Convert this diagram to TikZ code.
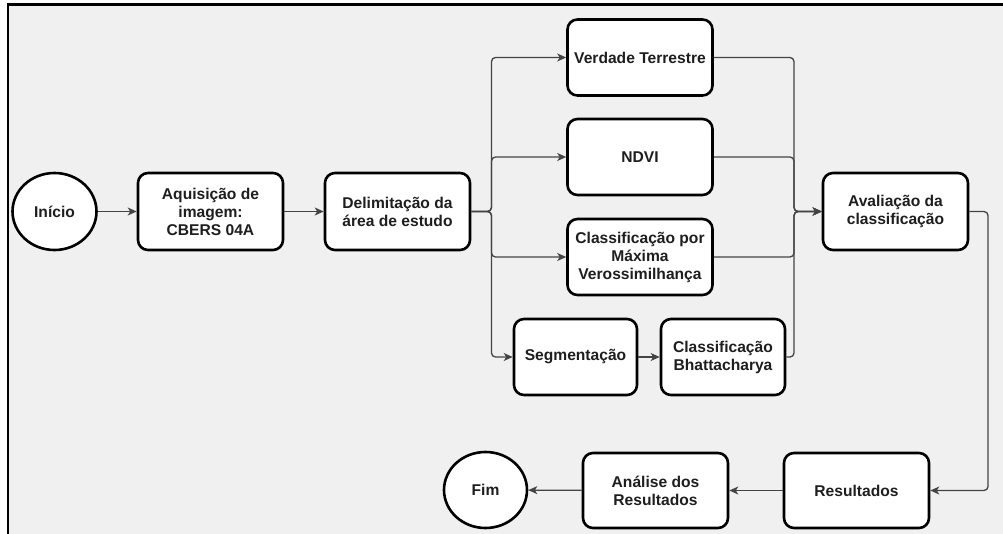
\documentclass[tikz,border=0pt]{standalone}
\usepackage{fontspec}
\setmainfont{Liberation Sans}
\usetikzlibrary{arrows.meta}
\usetikzlibrary{shapes.geometric}
\definecolor{bggray}{HTML}{F0F0F0}
\definecolor{linegray}{HTML}{444444}
\definecolor{textgray}{HTML}{1E1E1E}

\begin{document}
\begin{tikzpicture}[x=1pt, y=-1pt,
    stepbox/.style = {draw = black, fill = white, line width = 2.6pt, rounded corners = 10pt,
                      minimum width = 145pt, minimum height = 77pt, inner sep = 0pt,
                      align = center, text = textgray,
                      font = \fontsize{15.6}{18}\selectfont\bfseries},
    terminal/.style = {draw = black, fill = white, line width = 2.6pt, ellipse,
                       minimum width = 84pt, minimum height = 77pt, inner sep = 0pt,
                       text = textgray, font = \fontsize{15.6}{18}\selectfont\bfseries},
    link/.style = {draw = linegray, line width = 1.3pt, rounded corners = 4pt,
                   -{Stealth[length = 9pt, width = 8pt, inset = 2.5pt]}}]

        \useasboundingbox (0,0) rectangle (1003,534);

        % draw the frame
        \fill[white] (0,0) rectangle (1003,534);
        \fill[bggray] (7.8,4.7) rectangle (1003,534);
        \draw[line width = 2.6pt] (7.8,534) -- (7.8,4.7) -- (1003,4.7);

        % top row
        \node[terminal] (inicio) at (54.5,211.5) {Início};
        \node[stepbox] (aquisicao) at (210.5,211.5) {Aquisição de\\imagem:\\CBERS 04A};
        \node[stepbox] (delimitacao) at (397.5,211.5) {Delimitação da\\área de estudo};

        % the four branches
        \node[stepbox, minimum height = 76pt] (verdade) at (640,57.5) {Verdade Terrestre};
        \node[stepbox, minimum height = 76pt] (ndvi) at (640,157) {NDVI};
        \node[stepbox, minimum height = 76pt] (maxver) at (640,257) {Classificação por\\Máxima\\Verossimilhança};
        \node[stepbox, minimum width = 123pt, minimum height = 76pt] (segmentacao) at (575.5,357) {Segmentação};
        \node[stepbox, minimum width = 124pt, minimum height = 76pt] (bhatta) at (723,357) {Classificação\\Bhattacharya};

        % right column and bottom row
        \node[stepbox] (avaliacao) at (895.5,211.5) {Avaliação da\\classificação};
        \node[stepbox, minimum height = 75pt] (resultados) at (856.5,490.5) {Resultados};
        \node[stepbox, minimum height = 75pt] (analise) at (655.5,490.5) {Análise dos\\Resultados};
        \node[terminal, minimum width = 83pt, minimum height = 76pt] (fim) at (485.5,490) {Fim};

        % turning points
        \coordinate (split) at (491.5,211.5);
        \coordinate (merge) at (794,211.5);
        \coordinate (turn) at (988,211.5);

        % draw the arrows
        \draw[link] (inicio) -- (aquisicao);
        \draw[link] (aquisicao) -- (delimitacao);
        \draw[link] (delimitacao.east) -- (split) |- (verdade.west);
        \draw[link] (delimitacao.east) -- (split) |- (ndvi.west);
        \draw[link] (delimitacao.east) -- (split) |- (maxver.west);
        \draw[link] (delimitacao.east) -- (split) |- (segmentacao.west);
        \draw[link] (segmentacao) -- (bhatta);
        \draw[link] (verdade.east) -| (merge) -- (avaliacao.west);
        \draw[link] (ndvi.east) -| (merge) -- (avaliacao.west);
        \draw[link] (maxver.east) -| (merge) -- (avaliacao.west);
        \draw[link] (bhatta.east) -| (merge) -- (avaliacao.west);
        \draw[link] (avaliacao.east) -- (turn) |- (resultados.east);
        \draw[link] (resultados) -- (analise);
        \draw[link] (analise) -- (fim);

      \end{tikzpicture}
\end{document}
